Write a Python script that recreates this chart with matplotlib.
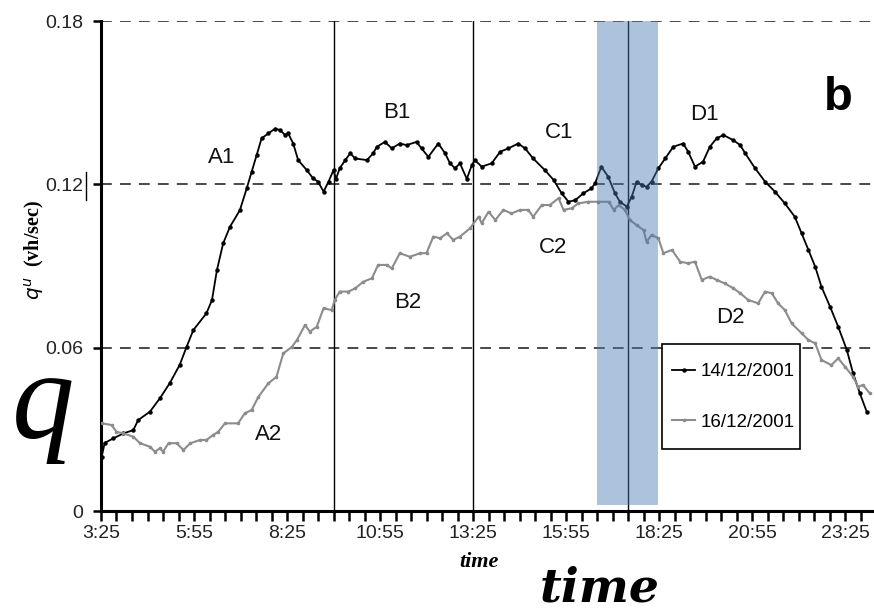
import matplotlib
matplotlib.use("Agg")
import matplotlib.pyplot as plt
from matplotlib.lines import Line2D
from matplotlib.patches import Rectangle
from matplotlib.ticker import FixedLocator, MultipleLocator, FuncFormatter

# time of day in minutes after midnight, flow q in vh/sec
t_1412 = [206, 211, 225, 241, 257, 265, 284, 300, 316, 332, 343, 354, 375, 384,
          392, 402, 413, 429, 440, 448, 456, 464, 475, 486, 494, 502, 507, 515,
          523, 537, 547, 555, 564, 572, 580, 584, 590, 599, 607, 615, 634, 644,
          650, 663, 674, 687, 698, 714, 722, 733, 749, 760, 768, 776, 784, 795,
          803, 808, 819, 835, 849, 862, 878, 889, 902, 921, 935, 948, 959, 970,
          983, 996, 1002, 1012, 1023, 1034, 1042, 1053, 1061, 1069, 1077, 1085,
          1093, 1104, 1115, 1128, 1144, 1152, 1163, 1176, 1187, 1198, 1209,
          1225, 1236, 1244, 1260, 1276, 1292, 1308, 1324, 1335, 1346, 1357,
          1367, 1381, 1394, 1408, 1418, 1429, 1440]
q_1412 = [0.0199, 0.0250, 0.0267, 0.0285, 0.0297, 0.0334, 0.0365, 0.0414,
          0.0470, 0.0537, 0.0603, 0.0665, 0.0726, 0.0775, 0.0885, 0.0983,
          0.1044, 0.1105, 0.1185, 0.1246, 0.1307, 0.1369, 0.1387, 0.1405,
          0.1399, 0.1381, 0.1387, 0.1350, 0.1289, 0.1252, 0.1222, 0.1210,
          0.1173, 0.1210, 0.1252, 0.1220, 0.1259, 0.1289, 0.1314, 0.1295,
          0.1289, 0.1314, 0.1338, 0.1356, 0.1332, 0.1350, 0.1344, 0.1356,
          0.1332, 0.1301, 0.1350, 0.1314, 0.1277, 0.1259, 0.1277, 0.1220,
          0.1270, 0.1289, 0.1265, 0.1277, 0.1320, 0.1332, 0.1350, 0.1332,
          0.1295, 0.1252, 0.1216, 0.1167, 0.1136, 0.1142, 0.1167, 0.1185,
          0.1204, 0.1265, 0.1228, 0.1167, 0.1136, 0.1118, 0.1155, 0.1210,
          0.1197, 0.1191, 0.1210, 0.1259, 0.1295, 0.1338, 0.1350, 0.1320,
          0.1265, 0.1283, 0.1338, 0.1369, 0.1381, 0.1362, 0.1344, 0.1314,
          0.1259, 0.1210, 0.1173, 0.1130, 0.1081, 0.1020, 0.0959, 0.0897,
          0.0824, 0.0750, 0.0677, 0.0591, 0.0506, 0.0432, 0.0365]

t_1612 = [206, 222, 230, 241, 257, 268, 284, 292, 300, 305, 314, 327, 338, 349,
          365, 375, 386, 394, 405, 426, 437, 448, 459, 475, 488, 499, 513, 521,
          534, 542, 553, 564, 577, 582, 590, 604, 615, 628, 642, 652, 666, 674,
          687, 703, 720, 730, 741, 752, 763, 773, 784, 800, 814, 819, 830, 841,
          854, 867, 881, 894, 902, 916, 929, 943, 951, 964, 975, 991, 1007,
          1024, 1032, 1040, 1050, 1058, 1069, 1080, 1085, 1093, 1104, 1112,
          1126, 1139, 1152, 1163, 1174, 1187, 1198, 1211, 1225, 1236, 1249,
          1265, 1276, 1287, 1297, 1308, 1319, 1335, 1346, 1357, 1367, 1383,
          1394, 1405, 1418, 1426, 1434, 1445]
q_1612 = [0.0322, 0.0316, 0.0291, 0.0285, 0.0273, 0.0249, 0.0236, 0.0218,
          0.0230, 0.0218, 0.0249, 0.0249, 0.0224, 0.0249, 0.0261, 0.0261,
          0.0279, 0.0291, 0.0322, 0.0322, 0.0359, 0.0371, 0.0420, 0.0469,
          0.0493, 0.0579, 0.0603, 0.0628, 0.0683, 0.0659, 0.0677, 0.0745,
          0.0738, 0.0775, 0.0806, 0.0806, 0.0818, 0.0842, 0.0855, 0.0904,
          0.0904, 0.0891, 0.0947, 0.0934, 0.0947, 0.0947, 0.1008, 0.1002,
          0.1020, 0.0996, 0.1008, 0.1038, 0.1081, 0.1057, 0.1099, 0.1069,
          0.1106, 0.1093, 0.1106, 0.1106, 0.1081, 0.1124, 0.1124, 0.1149,
          0.1106, 0.1112, 0.1130, 0.1136, 0.1136, 0.1136, 0.1106, 0.1124,
          0.1106, 0.1069, 0.1050, 0.1032, 0.0989, 0.1014, 0.1002, 0.0947,
          0.0959, 0.0916, 0.0910, 0.0916, 0.0849, 0.0861, 0.0849, 0.0836,
          0.0818, 0.0800, 0.0775, 0.0763, 0.0806, 0.0800, 0.0763, 0.0738,
          0.0689, 0.0653, 0.0628, 0.0616, 0.0555, 0.0536, 0.0561, 0.0530,
          0.0493, 0.0457, 0.0463, 0.0432]

# phase boundaries and the highlighted interval (minutes after midnight)
boundaries = [580, 805, 1055]
highlight = (1005, 1104)
phase_labels = ["A1", "B1", "C1", "D1", "A2", "B2", "C2", "D2"]
phase_x = [400, 682, 944, 1179, 476, 699, 934, 1220]
phase_y = [0.1278, 0.1443, 0.137, 0.1436, 0.0261, 0.0745, 0.0947, 0.069]

plt.rcParams['font.family'] = ['Liberation Sans', 'DejaVu Sans']

fig = plt.figure(figsize=(8.74, 6.12), dpi=100)
ax = fig.add_axes([101 / 874, 101 / 612, 773 / 874, 490 / 612])

ax.plot(t_1412, q_1412, color='black', linewidth=1.3, marker='o',
        markersize=2.2, label='14/12/2001', zorder=3)
ax.plot(t_1612, q_1612, color='#8c8c8c', linewidth=1.5, marker='o',
        markersize=1.6, label='16/12/2001', zorder=3)

for y in [0.06, 0.12, 0.18]:
    ax.axhline(y, color='#3a3a3a', linewidth=1.3, dashes=(6, 4.5), zorder=1)
for x in boundaries:
    ax.plot([x, x], [0, 0.18], color='black', linewidth=1.0, zorder=2)

ax.add_patch(Rectangle((highlight[0], 0.0022), highlight[1] - highlight[0],
                       0.18 - 0.0022, facecolor=(75 / 255, 120 / 255, 180 / 255),
                       alpha=0.45, edgecolor='none', zorder=4))

for lab, x, y in zip(phase_labels, phase_x, phase_y):
    ax.text(x, y, lab, fontsize=16, ha='center', va='baseline', color='#111')
ax.text(1395, 0.1473, 'b', fontsize=34, fontweight='bold', ha='center',
        va='baseline')

ax.set_xlim(205, 205 + 773 * 150 / 93)
ax.set_ylim(0, 0.18)

ax.xaxis.set_major_locator(FixedLocator([205 + 150 * i for i in range(9)]))
ax.xaxis.set_minor_locator(MultipleLocator(25, offset=5))
ax.xaxis.set_major_formatter(FuncFormatter(lambda v, p: '%d:%02d' % (v // 60, v % 60)))
ax.set_yticks([0, 0.06, 0.12, 0.18])
ax.set_yticklabels(['0', '0.06', '0.12', '0.18'])

ax.tick_params(axis='both', which='both', direction='out', width=1.8,
               color='black', labelsize=14, labelcolor='#222')
ax.tick_params(axis='x', which='both', length=7, pad=3)
ax.tick_params(axis='y', length=6, pad=7)

for side in ['top', 'right']:
    ax.spines[side].set_visible(False)
for side in ['left', 'bottom']:
    ax.spines[side].set_linewidth(2.2)

# legend entries without a frame, with a plain box drawn round them
ax.add_patch(Rectangle((0.7257, 0.1265), 0.1785, 0.2143, transform=ax.transAxes,
                       facecolor='white', edgecolor='black', linewidth=1.2,
                       zorder=5))
leg = ax.legend(loc='upper left', bbox_to_anchor=(0.7387, 0.302),
                borderaxespad=0, fontsize=13.5, frameon=False,
                handlelength=1.25, handletextpad=0.3,
                labelspacing=1.8, borderpad=0)
leg.set_zorder(6)

serif = ['Liberation Serif', 'DejaVu Serif']
fig.text(35 / 874, 1 - 250 / 612, r'$q^{u}$  (vh/sec)', rotation=90,
         fontsize=14.5, fontweight='bold', family=serif, ha='center',
         va='center')
fig.text(479 / 874, 45 / 612, 'time', fontsize=16, fontweight='bold',
         fontstyle='italic', family=serif, ha='center', va='baseline')
fig.text(43 / 874, 175 / 612, 'q', fontsize=90, fontstyle='italic',
         family=serif, ha='center', va='baseline')
fig.text(600 / 874, 0, 'time', fontsize=34, fontweight='bold',
         fontstyle='italic', family=['DejaVu Serif'], ha='center',
         va='bottom')
fig.add_artist(Line2D([85.5 / 874, 85.5 / 874], [1 - 172 / 612, 1 - 200 / 612],
                      color='black', linewidth=1.0))

fig.savefig('out.png', dpi=100)
plt.close(fig)
